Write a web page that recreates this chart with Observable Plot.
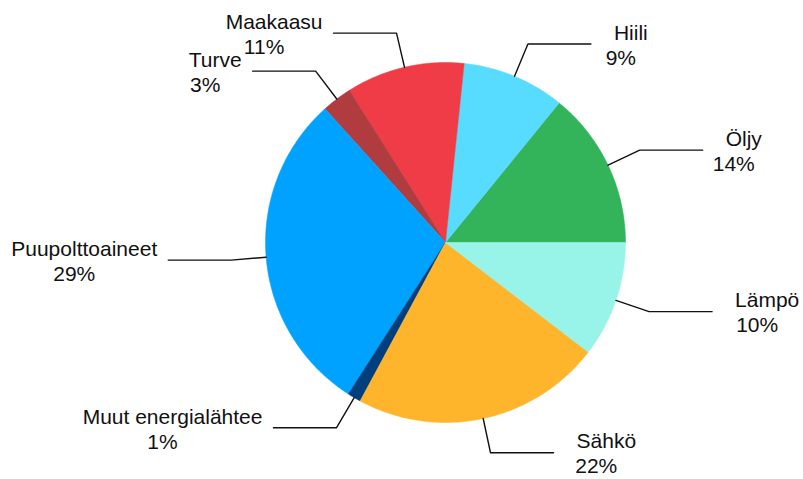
<!DOCTYPE html>
<html>
<head>
<meta charset="utf-8">
<script src="https://cdn.jsdelivr.net/npm/d3@7"></script>
<script src="https://cdn.jsdelivr.net/npm/@observablehq/plot@0.6"></script>
<style>
  html, body { margin: 0; padding: 0; background: #fff; }
  #chart { width: 803px; height: 479px; }
</style>
</head>
<body>
<div id="chart"></div>
<script>
// Data (counter-clockwise from 3 o'clock)
const categories = ["Öljy", "Hiili", "Maakaasu", "Turve", "Puupolttoaineet", "Muut energialähtee", "Sähkö", "Lämpö"];
const shares = [14.1, 9.2, 10.6, 2.7, 29.2, 1.2, 22.4, 10.4];
const colors = ["#33b35a", "#57dcff", "#f03c46", "#b03c3f", "#00a2ff", "#003f7d", "#ffb52b", "#98f3e8"];

const FONT = "'Liberation Sans', Arial, sans-serif";
const FS = 21;
const R = 180;           // pie radius (px units)
const ELBOW = 215;       // leader elbow radius
const HLEN = 63;         // horizontal leader length

const total = d3.sum(shares);
const canvas = document.createElement("canvas");
const ctx = canvas.getContext("2d");
ctx.font = `${FS}px ${FONT}`;
const textW = s => ctx.measureText(s).width;

// Build slice polygons, leaders and labels
const slicePts = [];
const leaderPts = [];
const labels = [];
let a0 = 0;
categories.forEach((name, i) => {
  const sweep = shares[i] / total * 2 * Math.PI;
  const a1 = a0 + sweep;
  slicePts.push({name, x: 0, y: 0});
  const n = Math.max(2, Math.ceil(sweep / (Math.PI / 360)));
  for (let k = 0; k <= n; k++) {
    const a = a0 + sweep * k / n;
    slicePts.push({name, x: R * Math.cos(a), y: R * Math.sin(a)});
  }
  slicePts.push({name, x: 0, y: 0});

  const am = (a0 + a1) / 2;
  const right = Math.cos(am) >= 0;
  const ax = R * Math.cos(am), ay = R * Math.sin(am);
  const ex = ELBOW * Math.cos(am), ey = ELBOW * Math.sin(am);
  const lx = ex + (right ? HLEN : -HLEN);
  leaderPts.push({name, x: ax, y: ay}, {name, x: ex, y: ey}, {name, x: lx, y: ey});

  const w = textW(name);
  const cx = right ? lx + 23 + w / 2 : lx - 11 - w / 2;
  labels.push({name, pct: Math.round(shares[i]) + "%", cx, ny: ey + 11, py: ey - 14});
  a0 = a1;
});

const chart = Plot.plot({
  width: 803,
  height: 479,
  margin: 0,
  x: {domain: [-445, 358], axis: null},
  y: {domain: [-237, 242], axis: null},
  color: {domain: categories, range: colors},
  style: {fontFamily: FONT, background: "#fff", overflow: "visible"},
  marks: [
    Plot.line(slicePts, {x: "x", y: "y", z: "name", fill: "name", stroke: "name", strokeWidth: 0.5, curve: "linear"}),
    Plot.line(leaderPts, {x: "x", y: "y", z: "name", stroke: "#111", strokeWidth: 1.4, curve: "linear"}),
    Plot.text(labels, {x: "cx", y: "ny", text: "name", textAnchor: "middle", fontSize: FS, fill: "#111"}),
    Plot.text(labels, {x: "cx", y: "py", text: "pct", textAnchor: "middle", dx: -10, fontSize: FS, fill: "#111"})
  ]
});
document.getElementById("chart").appendChild(chart);
</script>
</body>
</html>
